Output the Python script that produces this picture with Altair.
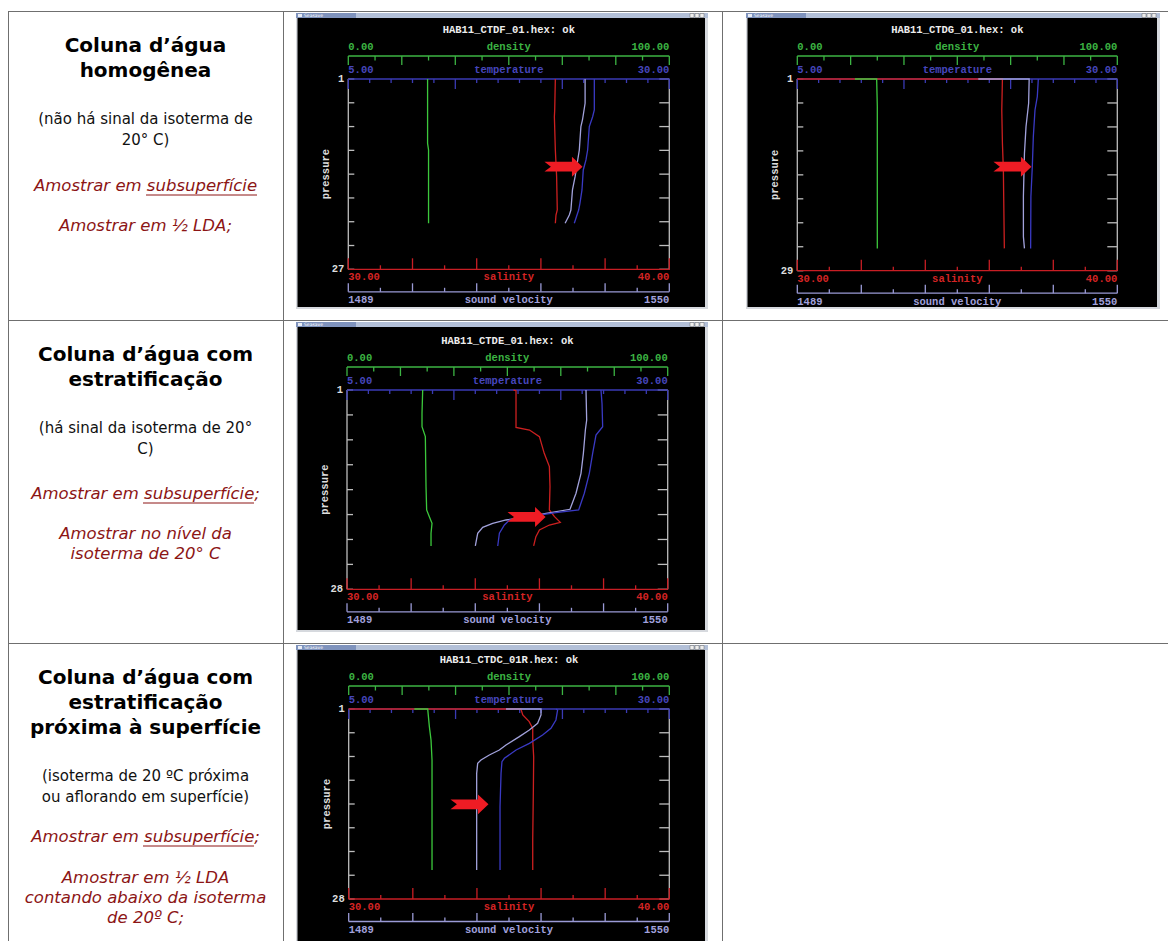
import altair as alt
import pandas as pd

W, H = 1168, 941

# ================= values read from the four Seasave screens =================
# Each profile: values on its own axis, and the pressure of each value.
# --- HAB11_CTDF_01 (coluna homogênea) ---
F_den = [24.7, 24.7, 25.0, 25.0]
F_den_p = [1, 9.8, 10.7, 20.7]
F_sal = [36.45, 36.43, 36.42, 36.45, 36.49, 36.51, 36.47, 36.45]
F_sal_p = [1, 5.23, 6.15, 10.7, 14.34, 18.9, 19.58, 20.7]
F_sv = [1534.0, 1534.0, 1533.5, 1533.2, 1532.9, 1532.6, 1532.1, 1531.6, 1531.3, 1531.0, 1530.2]
F_sv_p = [1, 4.32, 6.6, 7.51, 10.7, 12.06, 14.34, 16.16, 18.9, 19.58, 20.7]
F_temp = [24.16, 24.16, 24.03, 23.77, 23.64, 23.51, 23.30, 23.20, 23.04, 22.94, 22.73, 22.60]
F_temp_p = [1, 5.23, 6.15, 7.51, 10.7, 12.06, 13.43, 16.16, 17.98, 18.9, 20.03, 20.7]

# --- HAB11_CTDG_01 (coluna homogênea) ---
G_den = [18.0, 24.8, 25.0, 25.0]
G_den_p = [1, 1, 5.04, 25.74]
G_sal = [30.0, 36.41, 36.39, 36.41, 36.44, 36.45, 36.47]
G_sal_p = [1, 1, 5.53, 10.4, 14.29, 18.19, 25.74]
G_sv = [1523.5, 1533.2, 1533.1, 1532.6, 1532.3, 1532.1, 1532.1, 1532.3]
G_sv_p = [1, 1, 4.55, 7.96, 11.86, 18.19, 24.03, 25.74]
G_temp = [23.83, 23.75, 23.57, 23.44, 23.36, 23.25, 23.23]
G_temp_p = [1, 3.58, 5.53, 9.42, 13.81, 18.19, 25.74]

# --- HAB11_CTDE_01 (coluna com estratificação) ---
E_den = [23.6, 23.39, 23.39, 24.43, 24.64, 24.84, 25.68, 26.51, 26.2, 26.2]
E_den_p = [1, 4.16, 5.97, 7.32, 14.09, 17.25, 18.16, 19.06, 20.41, 22.13]
E_sal = [35.19, 35.27, 35.27, 35.69, 36.0, 36.15, 36.31, 36.33, 36.31, 36.47, 36.65, 36.31, 36.0, 35.89, 35.82]
E_sal_p = [1, 1.09, 6.06, 6.42, 7.32, 9.58, 11.38, 14.09, 17.25, 18.16, 18.93, 19.29, 19.96, 20.87, 22.13]
E_sv = [1534.46, 1534.59, 1534.34, 1533.96, 1533.51, 1532.56, 1531.42, 1526.86, 1523.68, 1519.25,
        1516.71, 1514.81, 1513.86, 1513.41]
E_sv_p = [1, 5.06, 6.42, 9.58, 12.29, 14.99, 17.16, 17.71, 18.16, 18.61, 19.06, 19.6, 20.41, 22.13]
E_temp = [24.8, 24.88, 24.93, 24.41, 24.15, 23.89, 23.5, 23.06, 21.29, 19.21, 17.66, 17.27, 16.88, 16.75]
E_temp_p = [1, 2.81, 5.97, 7.1, 9.58, 12.29, 14.99, 17.25, 17.61, 18.16, 18.61, 19.29, 20.41, 22.13]

# --- HAB11_CTDC_01R (estratificação próxima à superfície) ---
C_den = [20.48, 24.64, 25.16, 25.68, 25.99, 25.99]
C_den_p = [1, 1, 3.51, 5.41, 8.25, 23.88]
C_sal = [30.0, 35.37, 35.43, 35.63, 35.74, 35.74, 35.77, 35.76, 35.74, 35.74]
C_sal_p = [1, 1, 1.85, 2.8, 3.75, 5.41, 7.77, 12.51, 19.62, 23.88]
C_sv = [1518.93, 1525.59, 1525.59, 1524.95, 1523.37, 1521.47, 1518.93, 1517.66, 1515.76, 1514.17,
        1513.54, 1513.35, 1513.35]
C_sv_p = [1, 1, 1.85, 3.04, 3.98, 4.93, 6.12, 6.83, 7.54, 8.25, 8.72, 10.14, 23.88]
C_temp = [21.16, 21.29, 21.16, 20.77, 20.12, 19.09, 18.05, 17.14, 16.95, 16.88, 16.8, 16.8]
C_temp_p = [1, 1.14, 2.56, 3.75, 4.69, 5.88, 6.83, 8.01, 8.48, 10.14, 14.88, 23.88]

# red arrows (temperature, pressure of the arrow centre)
arrow_temp = [21.72, 21.77, 18.96, 14.38]
arrow_pres = [12.98, 13.81, 18.2, 14.55]

# axis ranges and labels shown on each screen
DEN_RANGE = [0, 100]
TEMP_RANGE = [5, 30]
SAL_RANGE = [30, 40]
SV_RANGE = [1489, 1550]
DEN_LBL = ["0.00", "density", "100.00"]
TEMP_LBL = ["5.00", "temperature", "30.00"]
SAL_LBL = ["30.00", "salinity", "40.00"]
SV_LBL = ["1489", "sound velocity", "1550"]
titles = ["HAB11_CTDF_01.hex: ok", "HAB11_CTDG_01.hex: ok", "HAB11_CTDE_01.hex: ok", "HAB11_CTDC_01R.hex: ok"]
pmax = [27, 29, 28, 28]

# ================= left column texts =================
head_lines = [("Coluna d’água", 46), ("homogênea", 71),
              ("Coluna d’água com", 355), ("estratificação", 380),
              ("Coluna d’água com", 678), ("estratificação", 703), ("próxima à superfície", 728)]
normal_lines = [("(não há sinal da isoterma de", 119), ("20° C)", 140),
                ("(há sinal da isoterma de 20°", 428), ("C)", 449),
                ("(isoterma de 20 ºC próxima", 776), ("ou aflorando em superfície)", 797)]
italic_lines = [("Amostrar em subsuperfície", 186), ("Amostrar em ½ LDA;", 226),
                ("Amostrar em subsuperfície;", 494), ("Amostrar no nível da", 534), ("isoterma de 20° C", 554),
                ("Amostrar em subsuperfície;", 837), ("Amostrar em ½ LDA", 878),
                ("contando abaixo da isoterma", 898), ("de 20º C;", 918)]

# ================= layout (pixels) =================
panels = [
    dict(win=(296, 13, 708, 309), x0=348.3, x1=669.3, y0=79, y1=269.3,
         den=(F_den, F_den_p), sal=(F_sal, F_sal_p), sv=(F_sv, F_sv_p), temp=(F_temp, F_temp_p)),
    dict(win=(746, 13, 1160, 309), x0=797.3, x1=1117.3, y0=79, y1=270.7,
         den=(G_den, G_den_p), sal=(G_sal, G_sal_p), sv=(G_sv, G_sv_p), temp=(G_temp, G_temp_p)),
    dict(win=(296, 322, 708, 632), x0=347.0, x1=667.7, y0=390, y1=589.3,
         den=(E_den, E_den_p), sal=(E_sal, E_sal_p), sv=(E_sv, E_sv_p), temp=(E_temp, E_temp_p)),
    dict(win=(296, 645, 708, 945), x0=348.7, x1=669.3, y0=709, y1=899,
         den=(C_den, C_den_p), sal=(C_sal, C_sal_p), sv=(C_sv, C_sv_p), temp=(C_temp, C_temp_p)),
]

GREEN, BLUE, RED, LAV, GRAY = "#3cb443", "#3a3ab4", "#c81e24", "#9a9ad6", "#bdbdbd"
CUR_GREEN, CUR_BLUE, CUR_RED, CUR_LAV = "#3cc83c", "#3a3ac4", "#cc2020", "#a2a2dc"
MONO = "Liberation Mono"

PX = alt.Scale(domain=[0, W], range=[0, W], nice=False, zero=False)
PY = alt.Scale(domain=[0, H], range=[0, H], nice=False, zero=False)


def X(f):
    return alt.X(f, type="quantitative", scale=PX, axis=None)


def Y(f):
    return alt.Y(f, type="quantitative", scale=PY, axis=None)


layers = []

# ---- window rectangles ----
rects = []
buttons = []
for p in panels:
    wx0, wy0, wx1, wy1 = p["win"]
    rects.append(dict(x=wx0, x2=wx1, y=wy0, y2=wy1, c="#d6d9de"))
    rects.append(dict(x=wx0, x2=wx1, y=wy0, y2=wy0 + 5, c="#b3c0d8"))
    rects.append(dict(x=wx0, x2=wx0 + 60, y=wy0, y2=wy0 + 5, c="#7f93bd"))
    rects.append(dict(x=wx0 + 1.5, x2=wx1 - 3, y=wy0 + 5, y2=wy1 - 2, c="#000000"))
    rects.append(dict(x=wx0 + 2, x2=wx0 + 6, y=wy0 + 1, y2=wy0 + 4, c="#e8ecf4"))
    for k in range(3):
        buttons.append(dict(x=wx1 - 18 + 5 * k, x2=wx1 - 14 + 5 * k, y=wy0 + 0.5, y2=wy0 + 4.5))
layers.append(alt.Chart(pd.DataFrame(rects)).mark_rect().encode(
    x=X("x"), x2="x2", y=Y("y"), y2="y2", color=alt.Color("c:N", scale=None)))
layers.append(alt.Chart(pd.DataFrame(buttons)).mark_rect(fill="#eeeeee", stroke="#666666", strokeWidth=0.5).encode(
    x=X("x"), x2="x2", y=Y("y"), y2="y2"))
layers.append(alt.Chart(pd.DataFrame([dict(x=p["win"][0] + 8, y=p["win"][1] + 2.6, t="Seasave") for p in panels]))
              .mark_text(align="left", baseline="middle", fontSize=4.5, color="#ffffff", font="DejaVu Sans")
              .encode(x=X("x"), y=Y("y"), text="t:N"))

# ---- table grid ----
grid = [dict(x=8, x2=W, y=11.5, y2=11.5), dict(x=8, x2=W, y=320.5, y2=320.5), dict(x=8, x2=W, y=643.5, y2=643.5),
        dict(x=8.5, x2=8.5, y=11.5, y2=H), dict(x=283.5, x2=283.5, y=11.5, y2=H),
        dict(x=722.5, x2=722.5, y=11.5, y2=H)]
layers.append(alt.Chart(pd.DataFrame(grid)).mark_rule(color="#6f6f6f", strokeWidth=1).encode(
    x=X("x"), x2="x2", y=Y("y"), y2="y2"))

# ---- Seasave axes frames ----
frame = []
for p in panels:
    x0, x1, y0, y1 = p["x0"], p["x1"], p["y0"], p["y1"]
    frame.append(dict(x=x0, x2=x0, y=y0, y2=y1, c=GRAY))
    frame.append(dict(x=x1, x2=x1, y=y0, y2=y1, c=GRAY))
    for k in range(9):
        yy = y0 + (y1 - y0) * k / 8
        frame.append(dict(x=x0, x2=x0 + 6, y=yy, y2=yy, c=GRAY))
        frame.append(dict(x=x1 - 10, x2=x1, y=yy, y2=yy, c=GRAY))
    # density
    frame.append(dict(x=x0, x2=x1, y=y0 - 23, y2=y0 - 23, c=GREEN))
    for k in range(13):
        xx = x0 + (x1 - x0) * k / 12
        frame.append(dict(x=xx, x2=xx, y=y0 - 23, y2=y0 - (14 if k % 2 == 0 else 18.5), c=GREEN))
    # temperature
    frame.append(dict(x=x0, x2=x1, y=y0, y2=y0, c=BLUE))
    for k in range(16):
        xx = x0 + (x1 - x0) * k / 15
        frame.append(dict(x=xx, x2=xx, y=y0, y2=y0 + (10 if k % 5 == 0 else 4), c=BLUE))
    # salinity
    frame.append(dict(x=x0, x2=x1, y=y1, y2=y1, c=RED))
    for k in range(11):
        xx = x0 + (x1 - x0) * k / 10
        frame.append(dict(x=xx, x2=xx, y=y1, y2=y1 - (11 if k % 2 == 0 else 4), c=RED))
    # sound velocity
    frame.append(dict(x=x0, x2=x1, y=y1 + 22.5, y2=y1 + 22.5, c=LAV))
    for k in range(11):
        xx = x0 + (x1 - x0) * k / 10
        frame.append(dict(x=xx, x2=xx, y=y1 + 22.5, y2=y1 + (14 if k % 2 == 0 else 18.5), c=LAV))
layers.append(alt.Chart(pd.DataFrame(frame)).mark_rule(strokeWidth=1.3).encode(
    x=X("x"), x2="x2", y=Y("y"), y2="y2", color=alt.Color("c:N", scale=None)))

# ---- Seasave labels ----
lab_l, lab_c, lab_r, lab_rot = [], [], [], []
for i, p in enumerate(panels):
    x0, x1, y0, y1 = p["x0"], p["x1"], p["y0"], p["y1"]
    xm = (x0 + x1) / 2
    lab_c.append(dict(x=xm, y=y0 - 49, t=titles[i], c="#ededed"))
    for lbl, yy, col in [(DEN_LBL, y0 - 32, GREEN), (TEMP_LBL, y0 - 9, "#4646bc"),
                         (SAL_LBL, y1 + 8, "#d42424"), (SV_LBL, y1 + 31, "#a0a0dc")]:
        lab_l.append(dict(x=x0, y=yy, t=lbl[0], c=col))
        lab_c.append(dict(x=xm, y=yy, t=lbl[1], c=col))
        lab_r.append(dict(x=x1, y=yy, t=lbl[2], c=col))
    lab_r.append(dict(x=x0 - 4, y=y0, t="1", c="#dddddd"))
    lab_r.append(dict(x=x0 - 4, y=y1, t=str(pmax[i]), c="#dddddd"))
    lab_rot.append(dict(x=x0 - 22, y=(y0 + y1) / 2, t="pressure", c="#dddddd"))
for data, al in [(lab_l, "left"), (lab_c, "center"), (lab_r, "right")]:
    layers.append(alt.Chart(pd.DataFrame(data)).mark_text(
        align=al, baseline="middle", font=MONO, fontSize=10.5, fontWeight="bold").encode(
        x=X("x"), y=Y("y"), text="t:N", color=alt.Color("c:N", scale=None)))
layers.append(alt.Chart(pd.DataFrame(lab_rot)).mark_text(
    align="center", baseline="middle", font=MONO, fontSize=10.5, fontWeight="bold", angle=270).encode(
    x=X("x"), y=Y("y"), text="t:N", color=alt.Color("c:N", scale=None)))

# ---- profiles (each through its own value scale and pressure scale) ----
ARROW = "M -0.95 -0.25 L 0.46 -0.25 L 0.46 -0.51 L 1 0 L 0.46 0.51 L 0.46 0.25 L -0.95 0.25 L -0.62 0 Z"
for i, p in enumerate(panels):
    yscale = alt.Scale(domain=[1, pmax[i]], range=[p["y0"], p["y1"]], nice=False, zero=False)
    for key, rng, col in [("sal", SAL_RANGE, CUR_RED), ("den", DEN_RANGE, CUR_GREEN),
                          ("sv", SV_RANGE, CUR_LAV), ("temp", TEMP_RANGE, CUR_BLUE)]:
        vals, pres = p[key]
        df = pd.DataFrame({"v": vals, "p": pres, "i": list(range(len(vals)))})
        layers.append(alt.Chart(df).mark_line(color=col, strokeWidth=1.3).encode(
            x=alt.X("v:Q", scale=alt.Scale(domain=rng, range=[p["x0"], p["x1"]], nice=False, zero=False), axis=None),
            y=alt.Y("p:Q", scale=yscale, axis=None),
            order=alt.Order("i:Q")))
    adf = pd.DataFrame({"t": [arrow_temp[i]], "p": [arrow_pres[i]]})
    layers.append(alt.Chart(adf).mark_point(shape=ARROW, size=1521, filled=True, color="#ee1c24",
                                             opacity=1, strokeWidth=0).encode(
        x=alt.X("t:Q", scale=alt.Scale(domain=TEMP_RANGE, range=[p["x0"], p["x1"]], nice=False, zero=False), axis=None),
        y=alt.Y("p:Q", scale=yscale, axis=None)))

# ---- left column text ----
XC = 145.5
layers.append(alt.Chart(pd.DataFrame([dict(x=XC, y=y, t=t) for t, y in head_lines])).mark_text(
    align="center", baseline="middle", font="DejaVu Sans", fontSize=20, fontWeight="bold", color="#000000").encode(
    x=X("x"), y=Y("y"), text="t:N"))
layers.append(alt.Chart(pd.DataFrame([dict(x=XC, y=y, t=t) for t, y in normal_lines])).mark_text(
    align="center", baseline="middle", font="DejaVu Sans", fontSize=15, color="#111111").encode(
    x=X("x"), y=Y("y"), text="t:N"))
layers.append(alt.Chart(pd.DataFrame([dict(x=XC, y=y, t=t) for t, y in italic_lines])).mark_text(
    align="center", baseline="middle", font="DejaVu Sans", fontSize=16.5, fontStyle="italic", color="#8c1515").encode(
    x=X("x"), y=Y("y"), text="t:N"))
under = [dict(x=146, x2=257, y=195, y2=195), dict(x=143, x2=254, y=503, y2=503), dict(x=143, x2=254, y=846, y2=846)]
layers.append(alt.Chart(pd.DataFrame(under)).mark_rule(color="#8c1515", strokeWidth=1).encode(
    x=X("x"), x2="x2", y=Y("y"), y2="y2"))

chart = alt.layer(*layers).resolve_scale(x="independent", y="independent").properties(
    width=W, height=H, padding=0, autosize=alt.AutoSizeParams(type="none"), background="white"
).configure_view(stroke=None)

chart.save("out.html", embed_options={"renderer": "svg", "actions": False})
